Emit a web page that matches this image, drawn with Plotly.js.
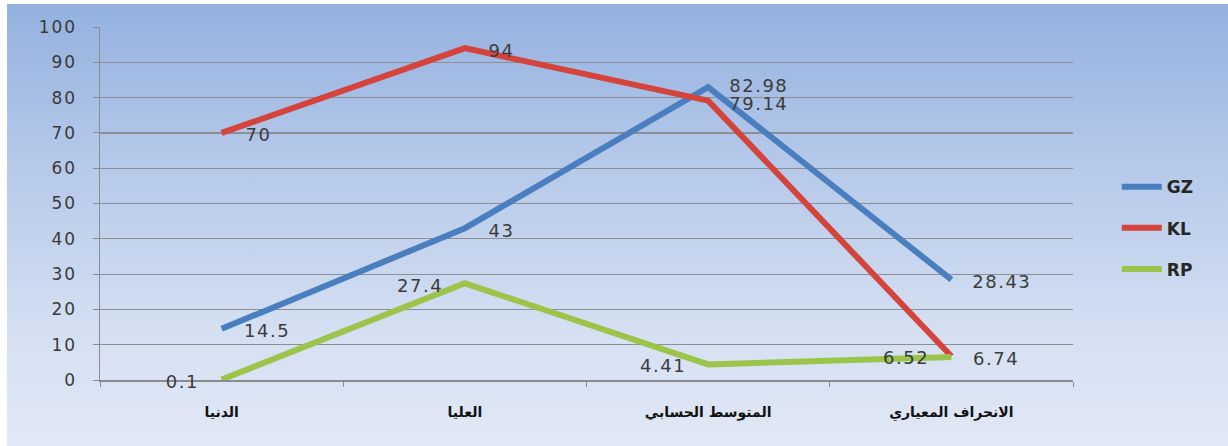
<!DOCTYPE html>
<html>
<head>
<meta charset="utf-8">
<script src="https://cdn.plot.ly/plotly-3.0.1.min.js"></script>
<style>
  html, body { margin: 0; padding: 0; background: #ffffff; }
  #wrap { position: relative; width: 1228px; height: 446px; overflow: hidden; }
  #bg { position: absolute; left: 7px; top: 4px; right: 0; bottom: 0;
        background: linear-gradient(to bottom, #94b1df 0%, #b4c8e9 35%, #d5e0f2 75%, #e1e8f5 100%); }
  #chart { position: absolute; left: 0; top: 0; width: 1228px; height: 446px; }
  #chart .ytick text { letter-spacing: 2px; }
  #chart .annotation-text { letter-spacing: 1.5px; }
</style>
</head>
<body>
<div id="wrap"><div id="bg"></div><div id="chart"></div></div>
<script>
const categories = ['الدنيا', 'العليا', 'المتوسط الحسابي', 'الانحراف المعياري'];
const seriesNames = ['GZ', 'KL', 'RP'];
const gzValues = [14.5, 43, 82.98, 28.43];
const klValues = [70, 94, 79.14, 6.74];
const rpValues = [0.1, 27.4, 4.41, 6.52];
const gzLabels = ['14.5', '43', '82.98', '28.43'];
const klLabels = ['70', '94', '79.14', '6.74'];
const rpLabels = ['0.1', '27.4', '4.41', '6.52'];
const yTicks = [0, 10, 20, 30, 40, 50, 60, 70, 80, 90, 100];

const labelFont = { family: 'DejaVu Sans, Verdana, sans-serif', size: 18, color: '#3c3c3c' };

function trace(name, y, color) {
  return {
    type: 'scatter', mode: 'lines', name: name, legendgroup: name,
    x: categories, y: y,
    line: { color: color, width: 6 },
    cliponaxis: false, hoverinfo: 'skip'
  };
}

const data = [
  trace(seriesNames[0], gzValues, '#4a7ebf'),
  trace(seriesNames[1], klValues, '#d4433c'),
  trace(seriesNames[2], rpValues, '#9cc44a')
];

// vertical nudges of individual labels (px), styling only
const gzNudge = [-2, -2, 2, -2];
const klNudge = [-2, -2, -3, -2];
const rpNudge = [-2, -2, -1, -1];

function labels(values, texts, side, nudge) {
  return values.map((v, i) => ({
    x: categories[i], y: v, text: texts[i], showarrow: false,
    xanchor: side === 'right' ? 'left' : 'right', yanchor: 'middle',
    xshift: side === 'right' ? 23 : -23, yshift: nudge[i],
    font: labelFont
  }));
}

const annotations = [].concat(
  labels(gzValues, gzLabels, 'right', gzNudge),
  labels(klValues, klLabels, 'right', klNudge),
  labels(rpValues, rpLabels, 'left', rpNudge)
);

const layout = {
  width: 1228, height: 446,
  paper_bgcolor: 'rgba(0,0,0,0)', plot_bgcolor: 'rgba(0,0,0,0)',
  margin: { l: 100, r: 155, t: 27, b: 66 },
  showlegend: true,
  legend: {
    x: 1.045, y: 0.43, xanchor: 'left', yanchor: 'middle',
    font: { family: 'DejaVu Sans, sans-serif', size: 17, color: '#262626', weight: 'bold' },
    bgcolor: 'rgba(0,0,0,0)', tracegroupgap: 16, itemwidth: 40
  },
  annotations: annotations,
  xaxis: {
    type: 'category', categoryorder: 'array', categoryarray: categories,
    range: [-0.5, 3.5],
    tickson: 'boundaries', ticks: 'outside', ticklen: 5, tickcolor: '#8c8c8c',
    showline: true, linecolor: '#8c8c8c', linewidth: 1.5,
    showgrid: false, zeroline: false,
    tickfont: { family: 'DejaVu Sans, sans-serif', size: 14, color: '#111111', weight: 'bold' },
    ticklabelstandoff: 19
  },
  yaxis: {
    range: [0, 100], tickvals: yTicks, ticktext: yTicks.map(String),
    ticks: 'outside', ticklen: 6, tickcolor: '#8c8c8c',
    showline: true, linecolor: '#8c8c8c', linewidth: 1.5,
    showgrid: true, gridcolor: '#8a8f98', gridwidth: 1.2,
    zeroline: false,
    tickfont: { family: 'DejaVu Sans, Verdana, sans-serif', size: 17, color: '#3a3a3a' },
    ticklabelstandoff: 12
  }
};

Plotly.newPlot('chart', data, layout, { displayModeBar: false, staticPlot: true });
</script>
</body>
</html>
